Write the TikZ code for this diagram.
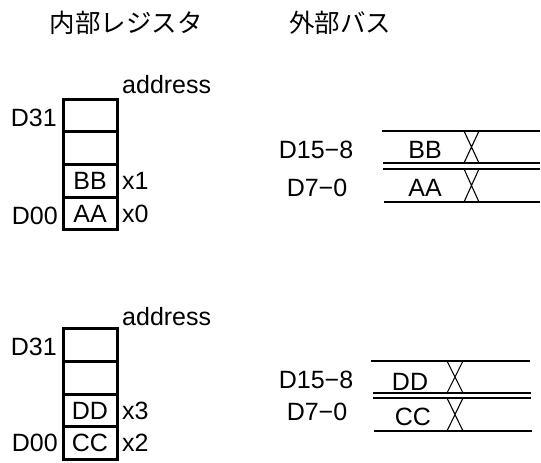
\documentclass[tikz,border=0pt]{standalone}
\usepackage{fontspec}
\setmainfont{Liberation Sans}
\newfontfamily\jpfont{Noto Sans CJK JP}
\newcommand{\lblsize}{\fontsize{25}{27}\selectfont}
\newcommand{\headsize}{\fontsize{25.5}{28}\selectfont}

\begin{document}
\begin{tikzpicture}[
    x=1pt, y=-1pt,
    cell/.style={
        draw,
        line width=3pt,
        minimum width=54pt,
        minimum height=32.7pt,
        inner sep=0pt,
        font=\lblsize
    },
    lbl/.style={inner sep=0pt, font=\lblsize},
    head/.style={inner sep=0pt, font=\jpfont\headsize},
    bus/.style={line width=1.6pt},
    xing/.style={line width=1.1pt}
]
\useasboundingbox (0,0) rectangle (541,463);

% Titles
\node[head] (hreg) at (126,23) {内部レジスタ};
\node[head] (hbus) at (340,23) {外部バス};

% Register, first transfer
\node[cell] (a3) at (90,115.5) {};
\node[cell] (a2) at (90,148.2) {};
\node[cell] (a1) at (90,180.9) {BB};
\node[cell] (a0) at (90,213.6) {AA};
\node[lbl, anchor=west] (aad) at (122,85) {address};
\node[lbl, anchor=east] (ahi) at (57,118) {D31};
\node[lbl, anchor=east] (alo) at (58,216) {D00};
\node[lbl, anchor=west] (ax1) at (122,181) {x1};
\node[lbl, anchor=west] (ax0) at (122,214) {x0};

% Register, second transfer
\node[cell] (b3) at (90,345) {};
\node[cell] (b2) at (90,377.7) {};
\node[cell] (b1) at (90,410.4) {DD};
\node[cell] (b0) at (90,443.1) {CC};
\node[lbl, anchor=west] (bad) at (122,317) {address};
\node[lbl, anchor=east] (bhi) at (57,347) {D31};
\node[lbl, anchor=east] (blo) at (58,443) {D00};
\node[lbl, anchor=west] (bx3) at (122,411) {x3};
\node[lbl, anchor=west] (bx2) at (122,443) {x2};

% Bus, first transfer
\node[lbl] (ahb) at (316,150) {D15−8};
\node[lbl] (alb) at (317,188) {D7−0};
\node[lbl] (abb) at (425,150) {BB};
\node[lbl] (aaa) at (425,188) {AA};
\draw[bus] (382,131) -- (540,131);
\draw[bus] (383,163) -- (540,163);
\draw[bus] (383,169) -- (540,169);
\draw[bus] (384,202) -- (540,202);
\draw[xing] (464,131) -- (479,163) (479,131) -- (464,163);
\draw[xing] (464,169) -- (479,202) (479,169) -- (464,202);

% Bus, second transfer
\node[lbl] (bhb) at (316,380) {D15−8};
\node[lbl] (blb) at (317,412) {D7−0};
\node[lbl] (bdd) at (410,382) {DD};
\node[lbl] (bcc) at (413,417) {CC};
\draw[bus] (371,361) -- (530,361);
\draw[bus] (373,393) -- (531,393);
\draw[bus] (373,398) -- (531,398);
\draw[bus] (374,431) -- (532,431);
\draw[xing] (447,361) -- (463,393) (463,361) -- (447,393);
\draw[xing] (447,398) -- (463,431) (463,398) -- (447,431);

\end{tikzpicture}
\end{document}
